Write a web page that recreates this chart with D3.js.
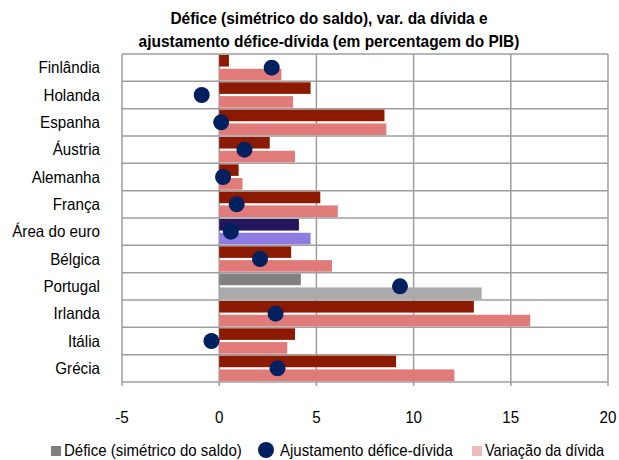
<!DOCTYPE html>
<html>
<head>
<meta charset="utf-8">
<script src="https://cdn.jsdelivr.net/npm/d3@7"></script>
<style>
    body { margin: 0; background: #fff; }
    svg text { font-family: "Liberation Sans Narrow", "Arial Narrow", "Liberation Sans", Arial, sans-serif; fill: #000; }
</style>
</head>
<body>
<div id="grafico"></div>
<script>
var paises = ["Finlândia", "Holanda", "Espanha", "Áustria", "Alemanha", "França",
    "Área do euro", "Bélgica", "Portugal", "Irlanda", "Itália", "Grécia"]
var defice = [0.5, 4.7, 8.5, 2.6, 1.0, 5.2, 4.1, 3.7, 4.2, 13.1, 3.9, 9.1]
var variacao = [3.2, 3.8, 8.6, 3.9, 1.2, 6.1, 4.7, 5.8, 13.5, 16.0, 3.5, 12.1]
var ajustamento = [2.7, -0.9, 0.1, 1.3, 0.2, 0.9, 0.6, 2.1, 9.3, 2.9, -0.4, 3.0]
var xTicks = [-5, 0, 5, 10, 15, 20]
var series = ["Défice (simétrico do saldo)", "Ajustamento défice-dívida", "Variação da dívida"]

var width = 619,
    height = 460,
    margin = { top: 54, right: 11, bottom: 78, left: 122 }

// cores: normal, área do euro, portugal
var corDefice = { normal: "#8b1a00", "Área do euro": "#23165f", "Portugal": "#808080" }
var corVariacao = { normal: "#e07b7a", "Área do euro": "#8e7ce3", "Portugal": "#aaaaaa" }

// sem Arial Narrow instalada: apertar o texto
function estreitar(f) {
    return function (sel) {
        sel.each(function () {
            var w = this.getComputedTextLength()
            d3.select(this)
                .attr("textLength", w * f)
                .attr("lengthAdjust", "spacingAndGlyphs")
        })
    }
}

var svg = d3.select("#grafico")
    .append("svg")
    .attr("width", width)
    .attr("height", height)

var x = d3.scaleLinear()
    .domain([-5, 20])
    .range([margin.left, width - margin.right])

var y = d3.scaleBand()
    .domain(paises)
    .range([margin.top, height - margin.bottom])

var ySub = d3.scaleBand()
    .domain(["defice", "variacao"])
    .range([0, y.bandwidth()])
    .paddingInner(0.16)
    .paddingOuter(0.07)

var dados = paises.map(function (p, i) {
    return { pais: p, defice: defice[i], variacao: variacao[i], ajustamento: ajustamento[i] }
})

// grelha
var grelha = svg.append("g").attr("class", "grelha")
grelha.selectAll("line.v")
    .data(xTicks)
    .enter()
    .append("line")
    .attr("x1", d => x(d))
    .attr("x2", d => x(d))
    .attr("y1", margin.top)
    .attr("y2", height - margin.bottom + 4)
    .attr("stroke", "#9e9e9e")
    .attr("stroke-width", 1.5)

grelha.selectAll("line.h")
    .data(paises.concat(["fim"]))
    .enter()
    .append("line")
    .attr("x1", x(-5))
    .attr("x2", x(20))
    .attr("y1", d => d === "fim" ? height - margin.bottom : y(d))
    .attr("y2", d => d === "fim" ? height - margin.bottom : y(d))
    .attr("stroke", "#9e9e9e")
    .attr("stroke-width", 1.5)

// barras
var grupos = svg.selectAll("g.pais")
    .data(dados)
    .enter()
    .append("g")
    .attr("transform", d => "translate(0," + y(d.pais) + ")")

grupos.append("rect")
    .attr("x", d => x(Math.min(0, d.defice)))
    .attr("y", ySub("defice"))
    .attr("width", d => Math.abs(x(d.defice) - x(0)))
    .attr("height", ySub.bandwidth())
    .attr("fill", d => corDefice[d.pais] || corDefice.normal)

grupos.append("rect")
    .attr("x", d => x(Math.min(0, d.variacao)))
    .attr("y", ySub("variacao"))
    .attr("width", d => Math.abs(x(d.variacao) - x(0)))
    .attr("height", ySub.bandwidth())
    .attr("fill", d => corVariacao[d.pais] || corVariacao.normal)

grupos.append("circle")
    .attr("cx", d => x(d.ajustamento))
    .attr("cy", y.bandwidth() / 2)
    .attr("r", 8)
    .attr("fill", "#002060")

// eixo y
svg.selectAll("text.pais")
    .data(paises)
    .enter()
    .append("text")
    .attr("x", 100)
    .attr("y", d => y(d) + y.bandwidth() / 2)
    .attr("dy", "0.35em")
    .attr("text-anchor", "end")
    .style("font-size", "16.5px")
    .text(d => d)
    .call(estreitar(0.92))

// eixo x
svg.selectAll("text.tick")
    .data(xTicks)
    .enter()
    .append("text")
    .attr("x", d => x(d))
    .attr("y", 423)
    .attr("text-anchor", "middle")
    .style("font-size", "16.5px")
    .text(d => d)
    .call(estreitar(0.92))

// titulo
var titulo = svg.append("g")
    .style("font-size", "17px")
    .style("font-weight", "bold")
titulo.append("text").attr("x", 329).attr("y", 24).attr("text-anchor", "middle")
    .text("Défice (simétrico do saldo), var. da dívida e").call(estreitar(0.91))
titulo.append("text").attr("x", 329).attr("y", 47).attr("text-anchor", "middle")
    .text("ajustamento défice-dívida (em percentagem do PIB)").call(estreitar(0.91))

// legenda
var leg = svg.append("g").style("font-size", "16.5px")
leg.append("rect").attr("x", 51).attr("y", 446).attr("width", 10).attr("height", 10).attr("fill", "#808080")
leg.append("text").attr("x", 64).attr("y", 456).text(series[0]).call(estreitar(0.91))
leg.append("circle").attr("cx", 266).attr("cy", 450).attr("r", 8).attr("fill", "#002060")
leg.append("text").attr("x", 280).attr("y", 456).text(series[1]).call(estreitar(0.91))
leg.append("rect").attr("x", 472).attr("y", 446).attr("width", 10).attr("height", 10).attr("fill", "#efbaba")
leg.append("text").attr("x", 485).attr("y", 456).text(series[2]).call(estreitar(0.88))
</script>
</body>
</html>
